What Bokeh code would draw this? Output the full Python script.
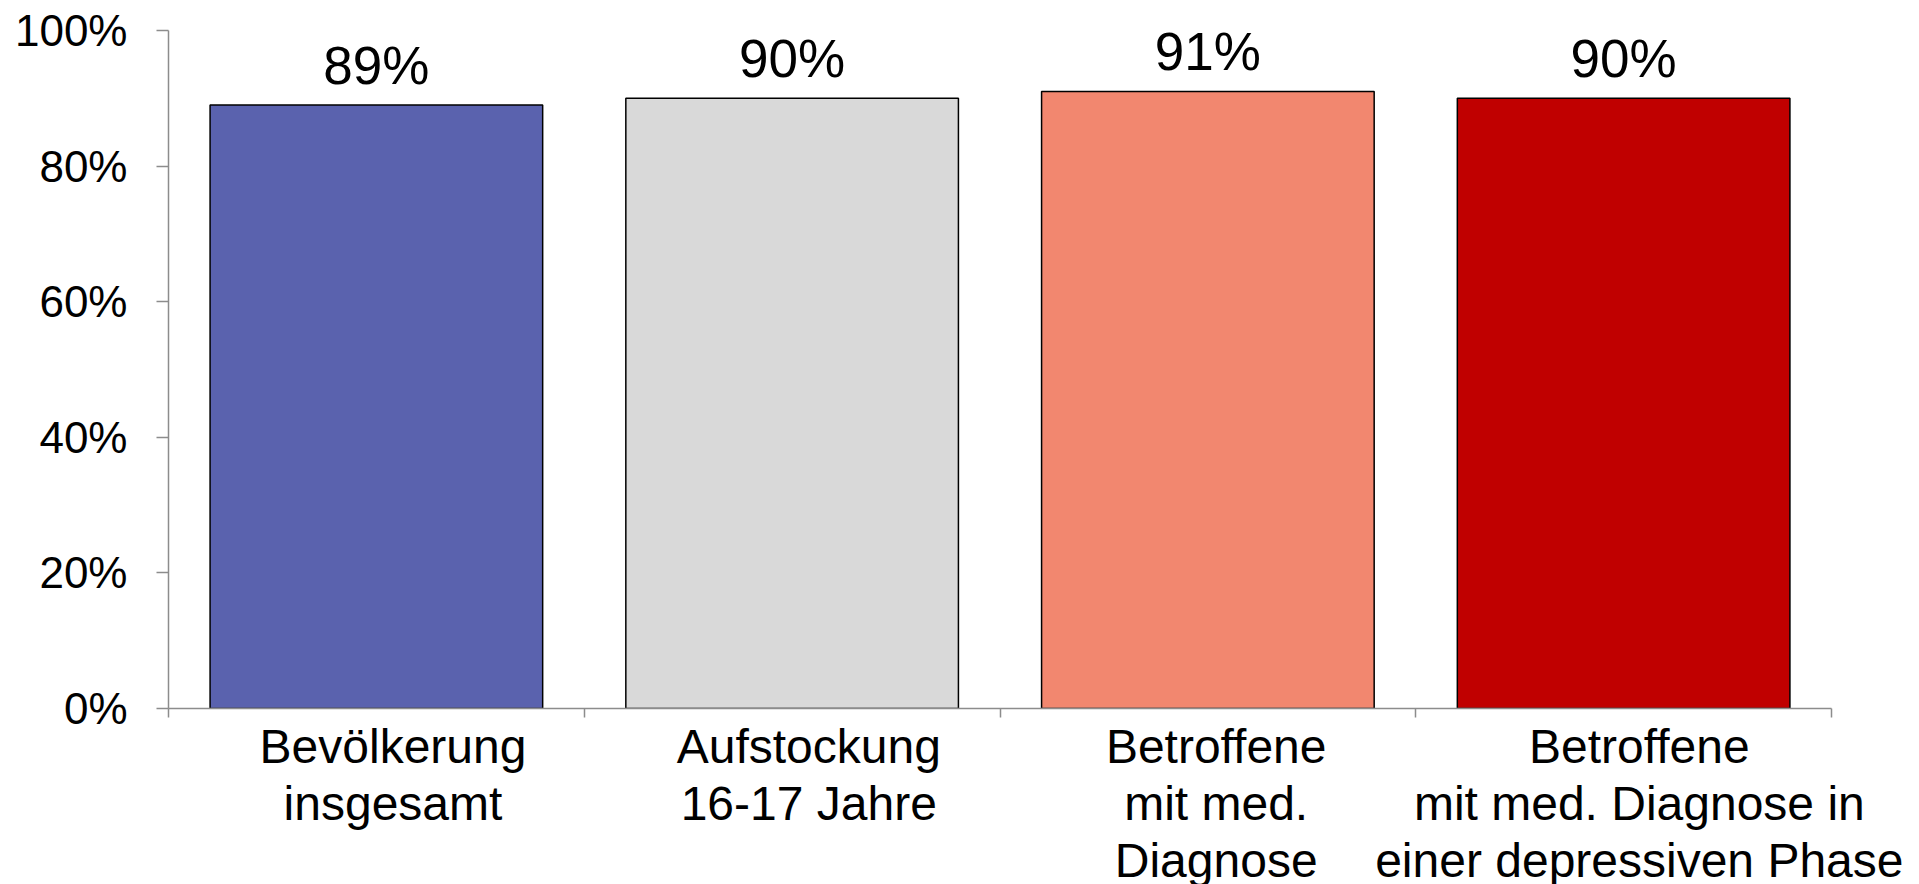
from bokeh.plotting import figure
from bokeh.models import ColumnDataSource, FixedTicker, NumeralTickFormatter, Range1d
from bokeh.core.properties import value
from bokeh.embed import file_html
from bokeh.resources import INLINE

categories = ["Bevölkerung\ninsgesamt", "Aufstockung\n16-17 Jahre",
              "Betroffene\nmit med.\nDiagnose",
              "Betroffene\nmit med. Diagnose in\neiner depressiven Phase"]
values = [0.89, 0.90, 0.91, 0.90]
labels = ["89%", "90%", "91%", "90%"]
colors = ["#5A62AE", "#D9D9D9", "#F2876F", "#C00000"]
y_ticks = [0, 0.2, 0.4, 0.6, 0.8, 1.0]

xs = [i + 0.5 for i in range(len(categories))]
src = ColumnDataSource(dict(x=xs, top=values, color=colors, label=labels))

# small rightward shift of category labels, as in the original layout
label_shift = [0.04, 0.04, 0.02, 0.05]
label_pos = [x + s for x, s in zip(xs, label_shift)]

FONT = "Liberation Sans"

p = figure(frame_width=1663, frame_height=678, output_backend="svg", toolbar_location=None,
           x_range=Range1d(0, len(categories)), y_range=Range1d(0, 1.0),
           min_border_left=168, min_border_right=72, min_border_top=30,
           min_border_bottom=170)
p.outline_line_color = None
p.xgrid.grid_line_color = None
p.ygrid.grid_line_color = None

p.vbar(x="x", top="top", width=0.8, bottom=0, fill_color="color",
       line_color="black", line_width=1.5, source=src)

p.text(x="x", y="top", text="label", source=src, text_align="center",
       text_baseline="alphabetic", y_offset=-40, text_font=value(FONT),
       text_font_size="53px", text_color="black")

axis_color = "#8C8C8C"
# y axis
p.yaxis.ticker = FixedTicker(ticks=y_ticks, minor_ticks=[])
p.yaxis.formatter = NumeralTickFormatter(format="0%")
p.yaxis.axis_line_color = axis_color
p.yaxis.axis_line_width = 1.5
p.yaxis.major_tick_line_color = axis_color
p.yaxis.major_tick_line_width = 1.5
p.yaxis.major_tick_out = 12
p.yaxis.major_tick_in = 0
p.yaxis.major_label_standoff = 29
p.yaxis.major_label_text_font = FONT
p.yaxis.major_label_text_font_size = "44px"
p.yaxis.major_label_text_color = "black"

# x axis
p.xaxis.ticker = FixedTicker(ticks=label_pos, minor_ticks=list(range(len(categories) + 1)))
p.xaxis.major_label_overrides = {x: c for x, c in zip(label_pos, categories)}
p.xaxis.axis_line_color = axis_color
p.xaxis.axis_line_width = 1.5
p.xaxis.major_tick_line_color = None
p.xaxis.minor_tick_line_color = axis_color
p.xaxis.minor_tick_line_width = 1.5
p.xaxis.minor_tick_out = 9
p.xaxis.minor_tick_in = 0
p.xaxis.major_tick_out = 0
p.xaxis.major_tick_in = 0
p.xaxis.major_label_standoff = 2
p.xaxis.major_label_text_font = FONT
p.xaxis.major_label_text_font_size = "48px"
p.xaxis.major_label_text_color = "black"
p.xaxis.major_label_text_line_height = 1.08

open("out.html", "w").write(file_html(p, INLINE))
